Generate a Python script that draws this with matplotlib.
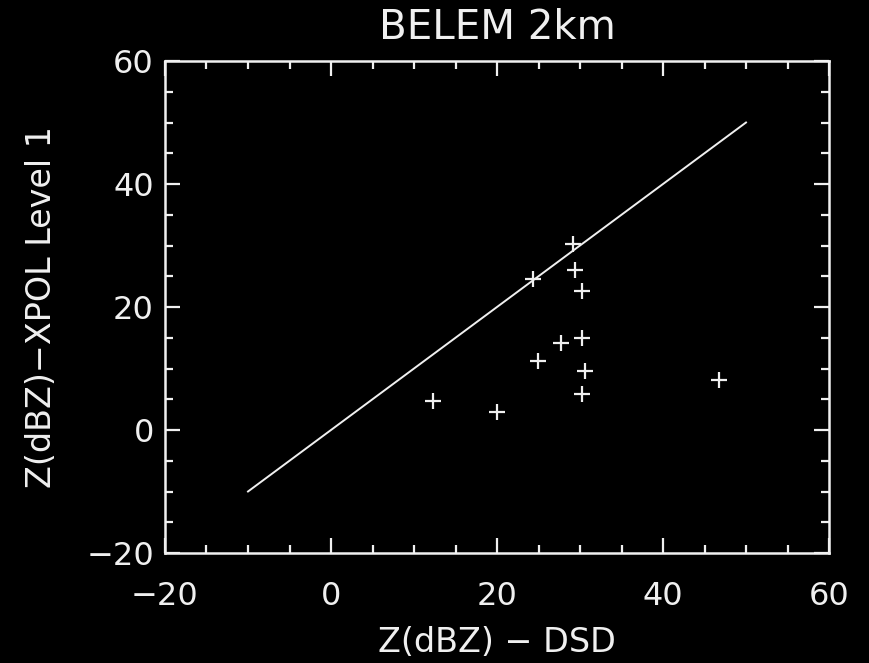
import matplotlib
matplotlib.use("Agg")
import matplotlib.pyplot as plt
from matplotlib.ticker import MultipleLocator

# data
dsd = [12.3, 20.0, 24.9, 24.3, 27.7, 29.1, 29.4, 30.3, 30.3, 30.6, 30.3, 46.7]
xpol = [4.7, 2.9, 11.2, 24.5, 14.2, 30.2, 26.0, 22.6, 15.0, 9.6, 5.9, 8.1]
one_to_one = [-10, 50]

fg = "#f0f0f0"
fig = plt.figure(figsize=(8.69, 6.63), dpi=100)
fig.patch.set_facecolor("black")
ax = fig.add_axes([165 / 869, 1 - 553 / 663, 664 / 869, 492 / 663])
ax.set_facecolor("black")

ax.plot(one_to_one, one_to_one, color=fg, lw=1.4)
ax.plot(dsd, xpol, ls="none", marker="+", color=fg, ms=12, mew=1.6)

ax.set_xlim(-20, 60)
ax.set_ylim(-20, 60)
ax.xaxis.set_major_locator(MultipleLocator(20))
ax.yaxis.set_major_locator(MultipleLocator(20))
ax.xaxis.set_minor_locator(MultipleLocator(5))
ax.yaxis.set_minor_locator(MultipleLocator(5))
ax.tick_params(which="both", direction="in", colors=fg, top=True, right=True, width=1.6)
ax.tick_params(which="major", length=11, labelsize=23)
ax.tick_params(which="minor", length=6)
ax.tick_params(axis="x", which="major", pad=20)
ax.tick_params(axis="y", which="major", pad=8)
for spine in ax.spines.values():
    spine.set_color(fg)
    spine.set_linewidth(1.8)

ax.set_title("BELEM 2km", color=fg, fontsize=29, pad=16)
ax.set_xlabel("Z(dBZ) \u2212 DSD", color=fg, fontsize=24, labelpad=10)
ax.set_ylabel("Z(dBZ)\u2212XPOL Level 1", color=fg, fontsize=24, labelpad=20)

plt.savefig("out.png", dpi=100, facecolor=fig.get_facecolor())
plt.close(fig)
